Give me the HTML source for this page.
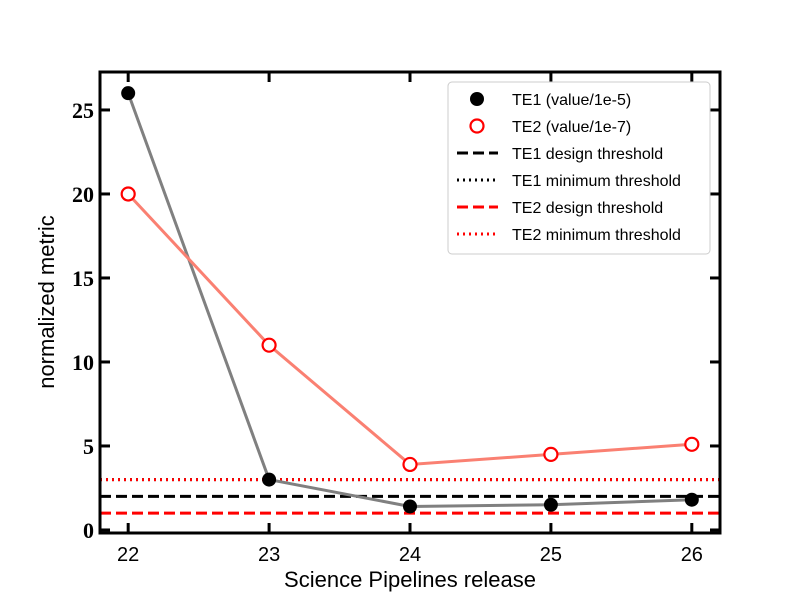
<!DOCTYPE html>
<html><head><meta charset="utf-8"><style>body{margin:0;background:#fff}svg{display:block}</style></head>
<body>
<svg id="c" width="800" height="600" xmlns="http://www.w3.org/2000/svg"></svg>
<script>
const releases=[22,23,24,25,26];
const te1=[26,3,1.4,1.5,1.8];
const te2=[20,11,3.9,4.5,5.1];
const te1Design=2, te1Min=3, te2Design=1, te2Min=3;
const yTicks=[0,5,10,15,20,25];
const L=100,R=720,T=72,B=533;
const x=v=>L+(v-21.8)/(26.2-21.8)*(R-L);
const y=v=>B-(v+0.18)/(27.26+0.18)*(B-T);
const svg=document.getElementById('c');
const NS='http://www.w3.org/2000/svg';
function mk(t,a,p){const e=document.createElementNS(NS,t);for(const k in a)e.setAttribute(k,a[k]);(p||svg).appendChild(e);return e;}
function hl(v,col,dash,name){const e=mk('line',{x1:L,x2:R,y1:y(v),y2:y(v),stroke:col,'stroke-width':3,'stroke-dasharray':dash});

}
hl(te1Min,'#000','2 4','te1-minimum-threshold');
hl(te2Min,'#f00','2 4','te2-minimum-threshold');
hl(te1Design,'#000','11 5','te1-design-threshold');
hl(te2Design,'#f00','11 5','te2-design-threshold');
let p1=mk('polyline',{points:releases.map((r,i)=>x(r)+','+y(te1[i])).join(' '),fill:'none',stroke:'#808080','stroke-width':3});


let p2=mk('polyline',{points:releases.map((r,i)=>x(r)+','+y(te2[i])).join(' '),fill:'none',stroke:'#fa8072','stroke-width':3});


releases.forEach((r,i)=>{
 let c=mk('circle',{cx:x(r),cy:y(te1[i]),r:7,fill:'#000'});
 
 
 let d=mk('circle',{cx:x(r),cy:y(te2[i]),r:6.5,fill:'#fff',stroke:'#f00','stroke-width':2.2});
 
 
});
let fr=mk('rect',{x:L,y:T,width:R-L,height:B-T,fill:'none',stroke:'#000','stroke-width':3});


releases.forEach(r=>{
 mk('line',{x1:x(r),x2:x(r),y1:B,y2:B-10,stroke:'#000','stroke-width':3});
 mk('line',{x1:x(r),x2:x(r),y1:T,y2:T+10,stroke:'#000','stroke-width':3});
 let t=mk('text',{x:x(r),y:B+28,'text-anchor':'middle','font-family':'Liberation Sans, sans-serif','font-size':20});
 t.textContent=r;
 
 
});
yTicks.forEach(v=>{
 mk('line',{x1:L,x2:L+10,y1:y(v),y2:y(v),stroke:'#000','stroke-width':3});
 mk('line',{x1:R,x2:R-10,y1:y(v),y2:y(v),stroke:'#000','stroke-width':3});
 let t=mk('text',{x:L-6,y:y(v)+8,'text-anchor':'end','font-family':'Liberation Serif, serif','font-weight':'bold','font-size':22});
 t.textContent=v;
 
 
});
let xt=mk('text',{x:410,y:587,'text-anchor':'middle','font-family':'Liberation Sans, sans-serif','font-size':22});
xt.textContent='Science Pipelines release';


let yt=mk('text',{x:0,y:0,transform:'translate(54,302) rotate(-90)','text-anchor':'middle','font-family':'Liberation Sans, sans-serif','font-size':22});
yt.textContent='normalized metric';


const lg=mk('g',{});


mk('rect',{x:448,y:82,width:262,height:172,rx:4,fill:'#fff',stroke:'#ccc','stroke-width':1},lg);
const items=[['TE1 (value/1e-5)','dot'],['TE2 (value/1e-7)','ring'],['TE1 design threshold','#000|11 5'],['TE1 minimum threshold','#000|2 4'],['TE2 design threshold','#f00|11 5'],['TE2 minimum threshold','#f00|2 4']];
items.forEach((it,i)=>{
 const cy=99+i*27;
 if(it[1]=='dot')mk('circle',{cx:477,cy:cy,r:7,fill:'#000'},lg);
 else if(it[1]=='ring')mk('circle',{cx:477,cy:cy,r:6.5,fill:'#fff',stroke:'#f00','stroke-width':2.2},lg);
 else{const [c,d]=it[1].split('|');mk('line',{x1:457,x2:498,y1:cy,y2:cy,stroke:c,'stroke-width':3,'stroke-dasharray':d},lg);}
 let t=mk('text',{x:512,y:cy+6,'font-family':'Liberation Sans, sans-serif','font-size':16},lg);
 t.textContent=it[0];
 
 
});
</script>
</body></html>
